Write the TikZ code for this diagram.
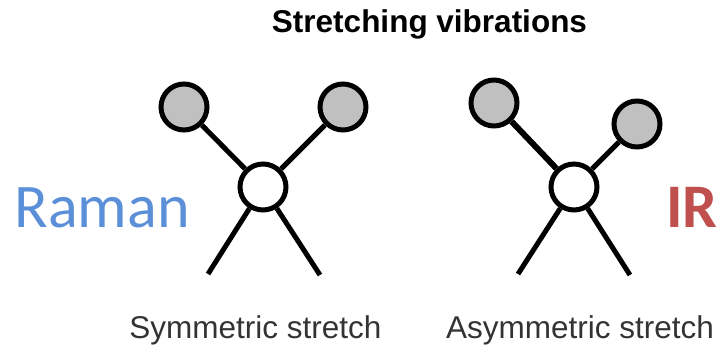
\documentclass[tikz,border=0pt]{standalone}
\usepackage{fontspec}
\setmainfont{Liberation Sans}
\newfontfamily\callabel{Carlito}
\definecolor{ballgrey}{HTML}{C0C0C0}
\definecolor{ramanblue}{HTML}{5B8FD8}
\definecolor{irred}{HTML}{C0504D}
\tikzset{
  outer/.style={circle,draw=black,line width=5pt,fill=ballgrey,minimum size=46pt,inner sep=0pt},
  centre/.style={circle,draw=black,line width=5pt,fill=white,minimum size=46pt,inner sep=0pt},
  bond/.style={line width=5pt,black},
  caption/.style={font=\fontsize{31.5}{36}\selectfont,text=black!80},
}
\begin{document}
\begin{tikzpicture}[x=1pt,y=-1pt]
\useasboundingbox (0,0) rectangle (720,345);
\coordinate (e1) at (208,274);
\coordinate (e2) at (320,275);
\coordinate (e3) at (518,274);
\coordinate (e4) at (630,275);
\node[centre] (c1) at (263,187) {};
\node[centre] (c2) at (574,187) {};
\node[outer] (a1) at (184,107) {};
\node[outer] (b1) at (343,107) {};
\node[outer] (a2) at (494,103) {};
\node[outer] (b2) at (637,124) {};
\draw[bond] (c1) -- (a1);
\draw[bond] (c1) -- (b1);
\draw[bond,line width=6pt] (c2) -- (a2);
\draw[bond] (c2) -- (b2);
\draw[bond] (c1) -- (e1);
\draw[bond] (c1) -- (e2);
\draw[bond] (c2) -- (e3);
\draw[bond] (c2) -- (e4);
\node[font=\bfseries\fontsize{31.5}{36}\selectfont,anchor=base] (t) at (429.5,33) {Stretching vibrations};
\node[caption,anchor=base] (s1) at (255.5,338) {Symmetric stretch};
\node[caption,anchor=base] (s2) at (580,338) {Asymmetric stretch};
\node[font=\callabel\fontsize{62}{70}\selectfont,text=ramanblue,anchor=base] (r) at (102,227) {Raman};
\node[font=\callabel\bfseries\fontsize{62}{70}\selectfont,text=irred,anchor=base] (i) at (692,227) {IR};
\end{tikzpicture}
\end{document}
